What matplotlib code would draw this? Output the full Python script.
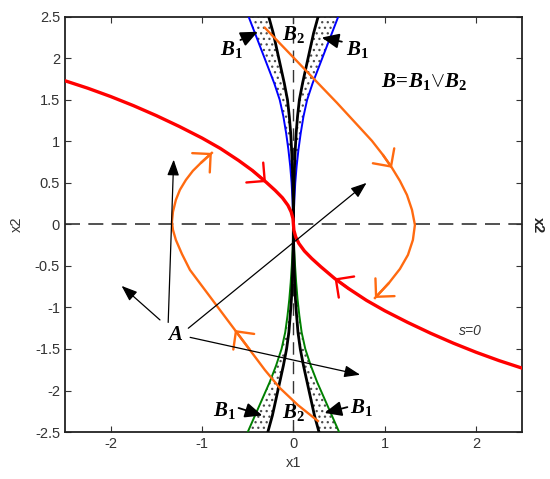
import matplotlib
matplotlib.use("Agg")
import matplotlib.pyplot as plt
from matplotlib.ticker import FuncFormatter

plt.rcParams['font.family'] = ['Liberation Sans', 'DejaVu Sans']
plt.rcParams['axes.unicode_minus'] = False
plt.rcParams['mathtext.fontset'] = 'custom'
plt.rcParams['mathtext.it'] = 'Liberation Serif:italic:bold'
plt.rcParams['mathtext.rm'] = 'Liberation Serif:bold'
plt.rcParams['hatch.linewidth'] = 0.9

# sliding surface s=0
red_x1 = [-2.5, -2.25, -2.0, -1.75, -1.5, -1.25, -1.0, -0.8, -0.6, -0.45, -0.3, -0.2,
          -0.12, -0.06, -0.025, -0.005, 0,
          0.005, 0.025, 0.06, 0.12, 0.2, 0.3, 0.45, 0.6, 0.8, 1.0, 1.25, 1.5, 1.75,
          2.0, 2.25, 2.5]
red_x2 = [1.73, 1.64, 1.54, 1.43, 1.31, 1.18, 1.04, 0.915, 0.77, 0.65, 0.51, 0.41,
          0.32, 0.23, 0.15, 0.07, 0,
          -0.07, -0.15, -0.23, -0.32, -0.41, -0.51, -0.65, -0.77, -0.915, -1.04, -1.18,
          -1.31, -1.43, -1.54, -1.64, -1.73]

# trajectories (orange)
left_x1 = [0.268, 0.049, -0.148, -0.312, -0.476, -0.640, -0.804, -0.968, -1.132, -1.220,
           -1.286, -1.318, -1.329, -1.318, -1.286, -1.242, -1.176, -1.100, -1.012, -0.892]
left_x2 = [-2.367, -2.175, -1.970, -1.753, -1.512, -1.271, -1.030, -0.789, -0.548, -0.355,
           -0.187, -0.066, 0.030, 0.151, 0.295, 0.416, 0.536, 0.645, 0.741, 0.861]
right_x1 = [-0.312, -0.049, 0.213, 0.476, 0.728, 0.859, 0.979, 1.078, 1.165, 1.242, 1.297,
            1.329, 1.307, 1.253, 1.165, 1.045, 0.892]
right_x2 = [2.367, 2.066, 1.765, 1.464, 1.163, 1.006, 0.837, 0.681, 0.524, 0.355, 0.175,
            -0.006, -0.187, -0.367, -0.536, -0.705, -0.886]

# boundary layers B1 / B2 (half widths)
top_x2 = [2.5, 2.3, 2.1, 1.9, 1.7, 1.5, 1.3, 1.1, 0.9, 0.7, 0.5, 0.3, 0.1, 0.0]
blue_w = [0.49, 0.42, 0.35, 0.28, 0.21, 0.15, 0.11, 0.08, 0.055, 0.035, 0.02, 0.01, 0.003, 0]
top_black_w = [0.27, 0.22, 0.18, 0.14, 0.10, 0.065, 0.045, 0.03, 0.02, 0.012, 0.006, 0.003, 0.001, 0]
bot_x2 = [-2.5, -2.3, -2.1, -1.9, -1.7, -1.5, -1.3, -1.1, -0.9, -0.7, -0.5, -0.3, -0.1, 0.0]
green_w = [0.50, 0.42, 0.34, 0.26, 0.19, 0.13, 0.09, 0.065, 0.045, 0.03, 0.018, 0.008, 0.002, 0]
bot_black_w = [0.28, 0.23, 0.19, 0.15, 0.11, 0.075, 0.05, 0.035, 0.022, 0.013, 0.007, 0.003, 0.001, 0]

# arrows from label A
a_from = [(-1.37, -1.18), (-1.46, -1.15), (-1.15, -1.25), (-1.13, -1.36)]
a_to = [(-1.31, 0.78), (-1.88, -0.74), (0.80, 0.50), (0.73, -1.81)]

# B labels: (text, x, y, arrow tail, arrow tip)
b_labels = [
    (r'$B_1$', -0.68, 2.10, (-0.58, 2.22), (-0.39, 2.32)),
    (r'$B_2$', 0.0, 2.29, None, None),
    (r'$B_1$', 0.70, 2.10, (0.53, 2.20), (0.31, 2.25)),
    (r'$B_1$', -0.76, -2.24, (-0.60, -2.21), (-0.34, -2.30)),
    (r'$B_2$', 0.0, -2.27, None, None),
    (r'$B_1$', 0.74, -2.20, (0.59, -2.20), (0.34, -2.27)),
]

fig = plt.figure(figsize=(5.5, 4.79), dpi=100)
ax = fig.add_axes([0.118, 0.098, 0.831, 0.867])

# stippled B1 bands
for sgn in (-1, 1):
    ax.fill_betweenx(top_x2, [sgn * w for w in blue_w], [sgn * w for w in top_black_w],
                     facecolor='none', edgecolor='0.3', hatch='...', lw=0, zorder=1)
    ax.fill_betweenx(bot_x2, [sgn * w for w in green_w], [sgn * w for w in bot_black_w],
                     facecolor='none', edgecolor='0.3', hatch='...', lw=0, zorder=1)

ax.axhline(0, color='#333333', lw=1.2, dashes=(9, 5), zorder=2)
ax.axvline(0, color='#333333', lw=1.0, dashes=(9, 5), zorder=2)

for sgn in (-1, 1):
    ax.plot([sgn * w for w in blue_w], top_x2, color='#0000ff', lw=1.4, zorder=3)
    ax.plot([sgn * w for w in top_black_w], top_x2, color='black', lw=2.0, zorder=3)
    ax.plot([sgn * w for w in green_w], bot_x2, color='#008000', lw=1.4, zorder=3)
    ax.plot([sgn * w for w in bot_black_w], bot_x2, color='black', lw=2.0, zorder=3)

orange = '#ff6a10'
ax.plot(red_x1, red_x2, color='#ff0000', lw=2.4, zorder=5)
ax.plot(left_x1, left_x2, color=orange, lw=1.7, zorder=4)
ax.plot(right_x1, right_x2, color=orange, lw=1.7, zorder=4)


def chevron(xs, ys, i, j, color):
    ax.annotate('', xy=(xs[j], ys[j]), xytext=(xs[i], ys[i]),
                arrowprops=dict(arrowstyle='->,head_length=0.75,head_width=0.75',
                                color=color, lw=1.7, shrinkA=0, shrinkB=0,
                                mutation_scale=12.5), zorder=6)


chevron(red_x1, red_x2, 9, 10, '#ff0000')
chevron(red_x1, red_x2, 24, 23, '#ff0000')
chevron(left_x1, left_x2, 4, 5, orange)
chevron(left_x1, left_x2, 18, 19, orange)
chevron(right_x1, right_x2, 6, 7, orange)
chevron(right_x1, right_x2, 15, 16, orange)

for s, e in zip(a_from, a_to):
    ax.annotate('', xy=e, xytext=s,
                arrowprops=dict(arrowstyle='-|>,head_length=0.8,head_width=0.3',
                                color='black', lw=0.9, shrinkA=0, shrinkB=0,
                                mutation_scale=12), zorder=7)
ax.text(-1.30, -1.32, r'$A$', fontsize=15, ha='center', va='center', zorder=8)

for txt, tx, ty, tail, tip in b_labels:
    ax.text(tx, ty, txt, fontsize=15, ha='center', va='center', zorder=8)
    if tail is not None:
        ax.annotate('', xy=tip, xytext=tail,
                    arrowprops=dict(arrowstyle='-|>,head_length=0.8,head_width=0.35',
                                    color='black', lw=1.3, shrinkA=0, shrinkB=0,
                                    mutation_scale=13), zorder=8)

ax.text(1.43, 1.72, r'$B\!=\!B_1\!\vee\!B_2$', fontsize=15, ha='center', va='center')
ax.text(1.94, -1.28, 's=0', fontsize=10, style='italic', color='#333333',
        ha='center', va='center')

ax.set_xlim(-2.5, 2.5)
ax.set_ylim(-2.5, 2.5)
ax.set_xticks([-2, -1, 0, 1, 2])
ax.set_yticks([-2.5, -2, -1.5, -1, -0.5, 0, 0.5, 1, 1.5, 2, 2.5])
fmt = FuncFormatter(lambda v, p: f'{v:g}')
ax.xaxis.set_major_formatter(fmt)
ax.yaxis.set_major_formatter(fmt)
ax.tick_params(direction='in', top=True, right=True, length=4, labelsize=10.5,
               labelcolor='#333333', color='#333333')
for sp in ax.spines.values():
    sp.set_color('#222222')
    sp.set_linewidth(1.3)
ax.set_xlabel('x1', fontsize=10.5, color='#333333', labelpad=4)
ax.set_ylabel('x2', fontsize=10.5, color='#333333', labelpad=8)
fig.text(0.978, 0.531, 'x2', fontsize=10.5, fontweight='bold', rotation=-90,
         ha='center', va='center', color='#222222')

fig.savefig('out.png', dpi=100)
